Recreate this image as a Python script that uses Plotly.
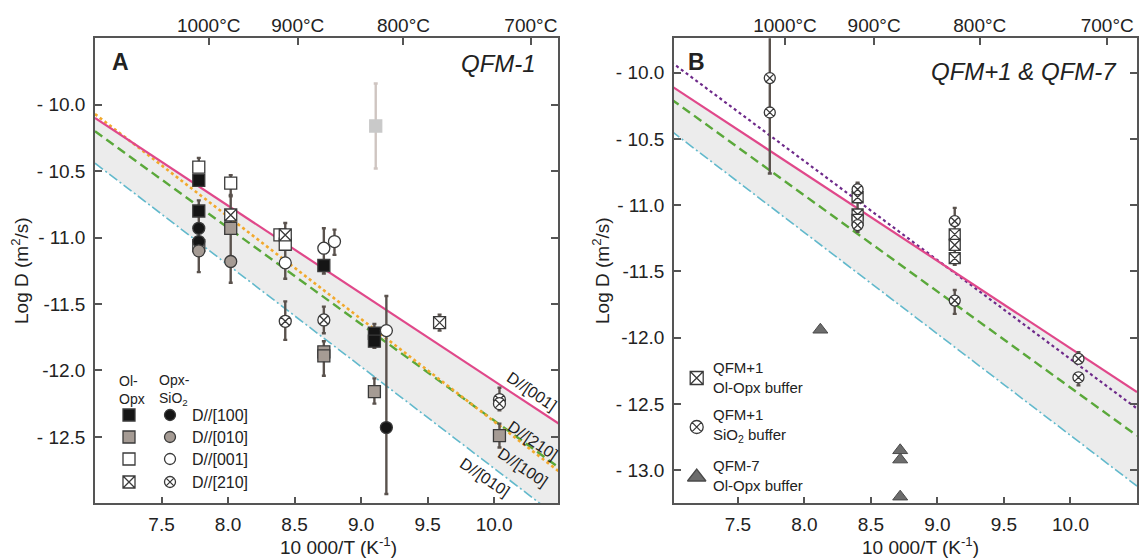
import plotly.graph_objects as go

# ---------------- data ----------------
LINE_X = [7.0, 10.5]
PINK_Y = [-10.10, -12.41]      # D//[001]
ORANGE_Y = [-10.07, -12.77]    # D//[100]
GREEN_Y = [-10.20, -12.74]     # D//[210]
CYAN_Y = [-10.44, -13.12]      # D//[010]
PURPLE_Y = [-9.92, -12.535]    # panel B dotted fit

CELSIUS = [1000, 900, 800, 700]
CELSIUS_LABELS = ["1000°C", "900°C", "800°C", "700°C"]

A_YTICKS = [-10.0, -10.5, -11.0, -11.5, -12.0, -12.5]
A_YTICKTEXT = ["- 10.0", "- 10.5", "- 11.0", "-11.5", "-12.0", "- 12.5"]
B_YTICKS = [-10.0, -10.5, -11.0, -11.5, -12.0, -12.5, -13.0]
B_YTICKTEXT = ["- 10.0", "- 10.5", "- 11.0", "-11.5", "-12.0", "- 12.5", "- 13.0"]
XTICKS = [7.5, 8.0, 8.5, 9.0, 9.5, 10.0]
XTICKTEXT = ["7.5", "8.0", "8.5", "9.0", "9.5", "10.0"]

# Panel A : Ol-Opx buffer (squares)
A_SQ100_X = [7.78, 7.78, 8.72, 9.10, 9.10]
A_SQ100_Y = [-10.57, -10.80, -11.21, -11.72, -11.78]
A_SQ100_EP = [0, 0.08, 0.04, 0.07, 0]
A_SQ100_EM = [0, 0.30, 0.06, 0, 0.05]

A_SQ010_X = [8.02, 8.72, 8.72, 9.10, 10.04]
A_SQ010_Y = [-10.93, -11.86, -11.89, -12.16, -12.49]
A_SQ010_EP = [0.25, 0.08, 0, 0.10, 0.09]
A_SQ010_EM = [0.25, 0, 0.15, 0.09, 0.09]

A_SQ001_X = [7.78, 7.78, 8.02, 8.39, 8.43]
A_SQ001_Y = [-10.47, -11.06, -10.59, -10.98, -11.05]
A_SQ001_EP = [0.07, 0, 0.06, 0, 0]
A_SQ001_EM = [0, 0, 0.10, 0, 0]

A_SQ210_X = [8.02, 8.43, 9.59]
A_SQ210_Y = [-10.83, -10.98, -11.64]
A_SQ210_EP = [0, 0.09, 0.06]
A_SQ210_EM = [0, 0.21, 0.06]

# Panel A : Opx-SiO2 buffer (circles)
A_CI100_X = [7.78, 7.78, 9.19]
A_CI100_Y = [-10.93, -11.03, -12.43]
A_CI100_EP = [0, 0, 0.99]
A_CI100_EM = [0, 0, 0.50]

A_CI010_X = [7.78, 8.02]
A_CI010_Y = [-11.10, -11.18]
A_CI010_EP = [0, 0]
A_CI010_EM = [0.16, 0.16]

A_CI001_X = [8.43, 8.72, 8.80, 9.19]
A_CI001_Y = [-11.19, -11.08, -11.03, -11.70]
A_CI001_EP = [0, 0.15, 0.09, 0]
A_CI001_EM = [0.12, 0.13, 0.10, 0]

A_CI210_X = [8.43, 8.72, 10.04, 10.04]
A_CI210_Y = [-11.63, -11.62, -12.22, -12.25]
A_CI210_EP = [0.15, 0.10, 0.09, 0]
A_CI210_EM = [0.14, 0.10, 0, 0.05]

A_OUT_X = [9.11]
A_OUT_Y = [-10.16]
A_OUT_EP = [0.32]
A_OUT_EM = [0.32]

# Panel B
B_SQ_X = [8.40, 8.40, 8.40, 9.13, 9.13, 9.13]
B_SQ_Y = [-10.94, -11.07, -11.11, -11.22, -11.30, -11.40]
B_SQ_EP = [0.10, 0, 0, 0, 0, 0]
B_SQ_EM = [0.20, 0, 0, 0, 0, 0.05]

B_CI_X = [7.74, 7.74, 8.40, 8.40, 9.13, 9.13, 10.06, 10.06]
B_CI_Y = [-10.04, -10.30, -10.88, -11.15, -11.12, -11.72, -12.16, -12.30]
B_CI_EP = [0.40, 0, 0.05, 0, 0.10, 0.08, 0.05, 0]
B_CI_EM = [0.26, 0.46, 0, 0.05, 0.30, 0.10, 0, 0.06]

B_TRI_X = [8.12, 8.72, 8.72, 8.72]
B_TRI_Y = [-11.94, -12.85, -12.92, -13.20]

# ---------------- layout geometry ----------------
W, H = 1142, 558
FONT = "Liberation Sans, Arial, Helvetica, sans-serif"
TXT = "#222222"
AXC = "#555555"
A_XRANGE = [7.0, 10.48]
A_YRANGE = [-13.0, -9.5]
B_XRANGE = [7.02, 10.50]
B_YRANGE = [-13.25, -9.74]
A_L, A_R = 95, 558
B_L, B_R = 674, 1137
TOP, BOT = 38.3, 503.3
TICK_FS = 19


def px(x):
    return x / W


def py(y):
    return 1 - y / H


def to_data(xpix, ypix, left, right, xr, yr):
    x = xr[0] + (xpix - left) / (right - left) * (xr[1] - xr[0])
    y = yr[1] - (ypix - TOP) / (BOT - TOP) * (yr[1] - yr[0])
    return x, y


PINK = "#e0488a"
ORANGE = "#f2a92c"
GREEN = "#5aa83a"
CYAN = "#62b9cc"
PURPLE = "#6e2a8a"
SHADE = "#ececec"
ERR = "#5a524d"
BLACK = "#151515"
GREY = "#a59b94"
WHITE = "#ffffff"
EDGE = "#3a3a3a"

fig = go.Figure()

# shading + fit lines
for xa, ya, extra in [("x", "y", [(ORANGE_Y, ORANGE, "dot", 2.6)]),
                      ("x2", "y2", [(PURPLE_Y, PURPLE, "dot", 2.2)])]:
    fig.add_trace(go.Scatter(x=[LINE_X[0], LINE_X[1], LINE_X[1], LINE_X[0]],
                             y=[PINK_Y[0], PINK_Y[1], CYAN_Y[1], CYAN_Y[0]],
                             fill="toself", fillcolor=SHADE, mode="none",
                             xaxis=xa, yaxis=ya, hoverinfo="skip"))
    fig.add_trace(go.Scatter(x=LINE_X, y=CYAN_Y, mode="lines",
                             line=dict(color=CYAN, width=1.6, dash="10px,3px,2px,3px"),
                             xaxis=xa, yaxis=ya))
    fig.add_trace(go.Scatter(x=LINE_X, y=GREEN_Y, mode="lines",
                             line=dict(color=GREEN, width=2.4, dash="9px,5px"),
                             xaxis=xa, yaxis=ya))
    for yy, col, dash, w in extra:
        fig.add_trace(go.Scatter(x=LINE_X, y=yy, mode="lines",
                                 line=dict(color=col, width=w, dash=dash),
                                 xaxis=xa, yaxis=ya))
    fig.add_trace(go.Scatter(x=LINE_X, y=PINK_Y, mode="lines",
                             line=dict(color=PINK, width=2.2),
                             xaxis=xa, yaxis=ya))

series = [
    # x, y, ep, em, axes, symbol, fill, size, edge, errcolor
    (A_OUT_X, A_OUT_Y, A_OUT_EP, A_OUT_EM, ("x", "y"), "square", "#c9c9c9", 12, "#c9c9c9", "#cfc5c1"),
    (A_SQ001_X, A_SQ001_Y, A_SQ001_EP, A_SQ001_EM, ("x", "y"), "square", WHITE, 12, EDGE, ERR),
    (A_SQ100_X, A_SQ100_Y, A_SQ100_EP, A_SQ100_EM, ("x", "y"), "square", BLACK, 12, EDGE, ERR),
    (A_SQ010_X, A_SQ010_Y, A_SQ010_EP, A_SQ010_EM, ("x", "y"), "square", GREY, 12, EDGE, ERR),
    (A_SQ210_X, A_SQ210_Y, A_SQ210_EP, A_SQ210_EM, ("x", "y"), "square-x", WHITE, 12, EDGE, ERR),
    (A_CI100_X, A_CI100_Y, A_CI100_EP, A_CI100_EM, ("x", "y"), "circle", BLACK, 12, EDGE, ERR),
    (A_CI010_X, A_CI010_Y, A_CI010_EP, A_CI010_EM, ("x", "y"), "circle", GREY, 12, EDGE, ERR),
    (A_CI001_X, A_CI001_Y, A_CI001_EP, A_CI001_EM, ("x", "y"), "circle", WHITE, 12, EDGE, ERR),
    (A_CI210_X, A_CI210_Y, A_CI210_EP, A_CI210_EM, ("x", "y"), "circle-x", WHITE, 12, EDGE, ERR),
    (B_SQ_X, B_SQ_Y, B_SQ_EP, B_SQ_EM, ("x2", "y2"), "square-x", WHITE, 11, EDGE, ERR),
    (B_CI_X, B_CI_Y, B_CI_EP, B_CI_EM, ("x2", "y2"), "circle-x", WHITE, 11, EDGE, ERR),
]

# error bars first
for xs, ys, ep, em, (xa, ya), sym, fill, size, edge, ecol in series:
    fig.add_trace(go.Scatter(x=xs, y=ys, mode="markers",
                             marker=dict(size=1, color="rgba(0,0,0,0)"),
                             error_y=dict(type="data", symmetric=False, array=ep, arrayminus=em,
                                          color=ecol, thickness=2.4, width=2),
                             xaxis=xa, yaxis=ya, hoverinfo="skip"))
# markers
for xs, ys, ep, em, (xa, ya), sym, fill, size, edge, ecol in series:
    fig.add_trace(go.Scatter(x=xs, y=ys, mode="markers",
                             marker=dict(symbol=sym, size=size, color=fill,
                                         line=dict(color=edge, width=1.3)),
                             xaxis=xa, yaxis=ya))
fig.add_trace(go.Scatter(x=B_TRI_X, y=B_TRI_Y, mode="markers",
                         marker=dict(symbol="triangle-up", size=13, color="#6c6c6c",
                                     line=dict(color="#4a4a4a", width=1)),
                         xaxis="x2", yaxis="y2"))

# ---- legend in panel A ----
leg_rows_y = [415, 437, 459, 482]
leg_sq = [(BLACK, "square"), (GREY, "square"), (WHITE, "square"), (WHITE, "square-x")]
leg_ci = [(BLACK, "circle"), (GREY, "circle"), (WHITE, "circle"), (WHITE, "circle-x")]
leg_txt = ["D//[100]", "D//[010]", "D//[001]", "D//[210]"]
for i, yp in enumerate(leg_rows_y):
    x1, y1 = to_data(129, yp, A_L, A_R, A_XRANGE, A_YRANGE)
    x2, _ = to_data(170, yp, A_L, A_R, A_XRANGE, A_YRANGE)
    fig.add_trace(go.Scatter(x=[x1], y=[y1], mode="markers",
                             marker=dict(symbol=leg_sq[i][1], size=12, color=leg_sq[i][0],
                                         line=dict(color=EDGE, width=1.3)), xaxis="x", yaxis="y"))
    fig.add_trace(go.Scatter(x=[x2], y=[y1], mode="markers",
                             marker=dict(symbol=leg_ci[i][1], size=11, color=leg_ci[i][0],
                                         line=dict(color=EDGE, width=1.3)), xaxis="x", yaxis="y"))

# ---- legend in panel B ----
b_leg_y = [378, 427, 477]
b_leg_sym = [("square-x", WHITE, 13), ("circle-x", WHITE, 13), ("triangle-up", "#6c6c6c", 16)]
for yp, (sym, col, sz) in zip(b_leg_y, b_leg_sym):
    xx, yy = to_data(696.7, yp, B_L, B_R, B_XRANGE, B_YRANGE)
    fig.add_trace(go.Scatter(x=[xx], y=[yy], mode="markers",
                             marker=dict(symbol=sym, size=sz, color=col,
                                         line=dict(color=EDGE if sym != "triangle-up" else "#4a4a4a", width=1.3)),
                             xaxis="x2", yaxis="y2"))

# invisible traces for top axes
top_pos = [1e4 / (c + 273.15) for c in CELSIUS]
fig.add_trace(go.Scatter(x=top_pos, y=[-10] * 4, mode="markers", marker=dict(opacity=0),
                         xaxis="x3", yaxis="y", hoverinfo="skip"))
fig.add_trace(go.Scatter(x=top_pos, y=[-10] * 4, mode="markers", marker=dict(opacity=0),
                         xaxis="x4", yaxis="y2", hoverinfo="skip"))

ann = []


def A(text, x, y, size=15, xanchor="center", yanchor="middle", angle=0, align="center"):
    ann.append(dict(text=text, showarrow=False, font=dict(family=FONT, size=size, color=TXT),
                    xanchor=xanchor, yanchor=yanchor, textangle=angle, align=align,
                    x=px(x), y=py(y), xref="paper", yref="paper"))


A("<b>A</b>", 120, 62, size=23)
A("<i>QFM-1</i>", 538, 63, size=24, xanchor="right")
A("<b>B</b>", 696, 62, size=23)
A("<i>QFM+1 &amp; QFM-7</i>", 1119, 71, size=24, xanchor="right")
A("10 000/T (K<sup>-1</sup>)", 338, 546, size=19)
A("10 000/T (K<sup>-1</sup>)", 920, 546, size=19)
A("Log D (m<sup>2</sup>/s)", 20, 271, size=19, angle=-90)
A("Log D (m<sup>2</sup>/s)", 601, 271, size=19, angle=-90)

# legend A headers (two-line)
A("Ol-<br>Opx", 117, 390, size=14, xanchor="left", align="left")
A("Opx-<br>SiO<sub>2</sub>", 157, 390, size=14, xanchor="left", align="left")
for yp, t in zip(leg_rows_y, leg_txt):
    A(t, 190, yp, size=16, xanchor="left")

# legend B text
for (l1, l2), (y1, y2) in zip([("QFM+1", "Ol-Opx buffer"), ("QFM+1", "SiO<sub>2</sub> buffer"),
                                ("QFM-7", "Ol-Opx buffer")],
                               [(368, 387), (416, 434), (466, 484)]):
    A(l1 + "<br>" + l2, 711, (y1 + y2) / 2, size=15, xanchor="left", align="left")

# line labels panel A
for t, (xp, yp) in zip(["D//[001]", "D//[210]", "D//[100]", "D//[010]"],
                       [(532, 391), (533, 440), (523, 467), (485, 477)]):
    A(t, xp, yp, size=16, angle=34)

axis_common = dict(showgrid=False, zeroline=False, showline=True, linecolor=AXC, linewidth=1.5,
                   ticks="inside", ticklen=7, tickwidth=1.5, tickcolor=AXC,
                   tickfont=dict(family=FONT, size=TICK_FS, color=TXT))

yd = [py(BOT), py(TOP)]
fig.update_layout(
    width=W, height=H, margin=dict(l=0, r=0, t=0, b=0),
    paper_bgcolor="white", plot_bgcolor="white", showlegend=False,
    annotations=ann,
    xaxis=dict(domain=[px(A_L), px(A_R)], range=A_XRANGE, anchor="y", tickvals=XTICKS,
               ticktext=XTICKTEXT, ticklabelstandoff=3, **axis_common),
    yaxis=dict(domain=yd, range=A_YRANGE, anchor="x", tickvals=A_YTICKS, ticktext=A_YTICKTEXT,
               mirror="ticks", ticklabelstandoff=4, **axis_common),
    xaxis2=dict(domain=[px(B_L), px(B_R)], range=B_XRANGE, anchor="y2", tickvals=XTICKS,
                ticktext=XTICKTEXT, ticklabelstandoff=3, **axis_common),
    yaxis2=dict(domain=yd, range=B_YRANGE, anchor="x2", tickvals=B_YTICKS, ticktext=B_YTICKTEXT,
                mirror="ticks", ticklabelstandoff=4, **axis_common),
    xaxis3=dict(overlaying="x", side="top", anchor="y", range=A_XRANGE, tickvals=top_pos,
                ticktext=CELSIUS_LABELS, ticklabelstandoff=-3, **axis_common),
    xaxis4=dict(overlaying="x2", side="top", anchor="y2", range=B_XRANGE, tickvals=top_pos,
                ticktext=CELSIUS_LABELS, ticklabelstandoff=-3, **axis_common),
)

fig.write_html("out.html")
